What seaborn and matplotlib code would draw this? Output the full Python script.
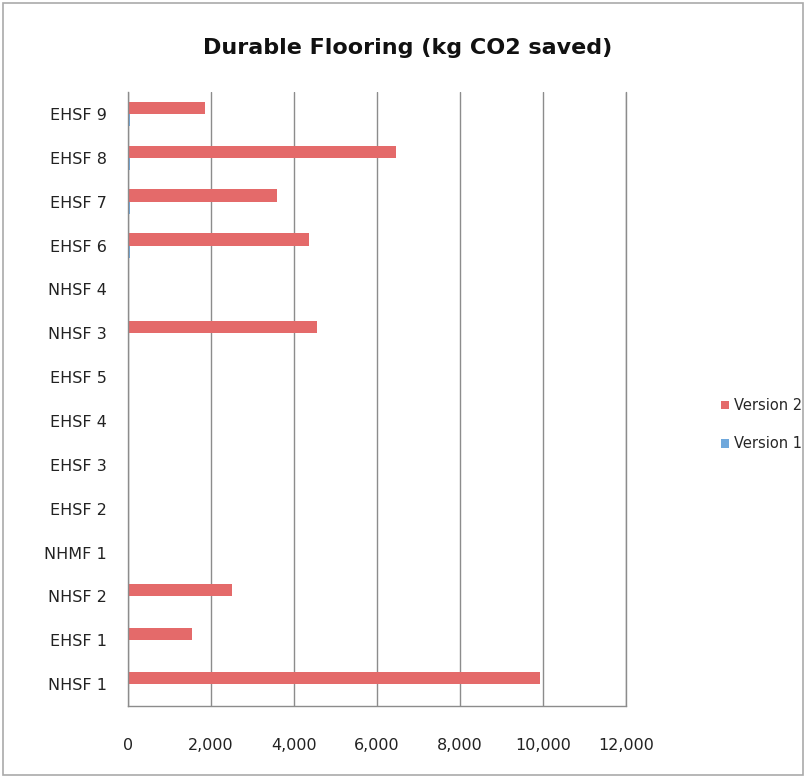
import matplotlib
matplotlib.use("Agg")
import matplotlib.pyplot as plt
import seaborn as sns
import pandas as pd
import numpy as np
from matplotlib.ticker import FuncFormatter, FixedLocator
from matplotlib.patches import Rectangle

# Data (top to bottom as displayed)
categories = ["EHSF 9", "EHSF 8", "EHSF 7", "EHSF 6", "NHSF 4", "NHSF 3", "EHSF 5",
              "EHSF 4", "EHSF 3", "EHSF 2", "NHMF 1", "NHSF 2", "EHSF 1", "NHSF 1"]
version2 = [1860, 6460, 3590, 4360, 0, 4550, 0, 0, 0, 0, 0, 2510, 1540, 9930]
version1 = [40, 40, 40, 40, 0, 0, 0, 0, 0, 0, 0, 0, 0, 0]
series_names = ["Version 2", "Version 1"]
xticks = [0, 2000, 4000, 6000, 8000, 10000, 12000]

df = pd.DataFrame({
    "category": categories * 2,
    "value": version2 + version1,
    "series": [series_names[0]] * len(categories) + [series_names[1]] * len(categories),
})

sns.set_style("white")
plt.rcParams['font.family'] = ['DejaVu Sans']

fig = plt.figure(figsize=(8.06, 7.78), dpi=100)
ax = fig.add_axes([0.1588, 0.0925, 0.7767 - 0.1588, 0.8817 - 0.0925])

sns.barplot(data=df, y="category", x="value", hue="series", order=categories,
            hue_order=series_names, orient="h", width=0.56,
            palette=["#E46A6A", "#6FA8DC"], ax=ax, saturation=1, edgecolor="none")

ax.set_xlim(0, 12000)
ax.set_ylim(len(categories) - 0.5, -0.5)
ax.xaxis.set_major_locator(FixedLocator(xticks))
ax.xaxis.set_major_formatter(FuncFormatter(lambda v, p: f"{int(v):,}"))
ax.grid(axis="x", color="#8c8c8c", linewidth=1.0)
ax.set_axisbelow(True)
ax.set_xlabel("")
ax.set_ylabel("")
ax.axvline(12000, color="#8c8c8c", linewidth=1.0, clip_on=False, zorder=0)

for s in ["top", "right"]:
    ax.spines[s].set_visible(False)
for s in ["left", "bottom"]:
    ax.spines[s].set_color("#8c8c8c")
    ax.spines[s].set_linewidth(1.0)

ax.tick_params(axis="y", which="major", length=0, labelsize=11.5, pad=15, colors="#222222")
ax.yaxis.set_minor_locator(FixedLocator(np.arange(-0.5, len(categories), 1.0)))
ax.tick_params(axis="y", which="minor", length=6, color="#8c8c8c", width=1)
ax.tick_params(axis="x", which="major", length=6, color="#8c8c8c", width=1,
               labelsize=11.5, pad=17, colors="#222222")

fig.text(408 / 806, 1 - 48 / 778, "Durable Flooring (kg CO2 saved)", fontsize=16,
         fontweight="bold", color="#111111", ha="center", va="center")

leg = ax.legend(loc="center left", bbox_to_anchor=(1.19, 0.458), frameon=False,
                fontsize=10.5, handlelength=0.55, handleheight=0.55, handletextpad=0.35,
                labelspacing=1.6, borderaxespad=0, borderpad=0)

fig.patches.append(Rectangle((0.004, 0.004), 0.992, 0.992, transform=fig.transFigure,
                             fill=False, edgecolor="#aaaaaa", linewidth=1.2))

fig.savefig("out.png", dpi=100, facecolor="white")
